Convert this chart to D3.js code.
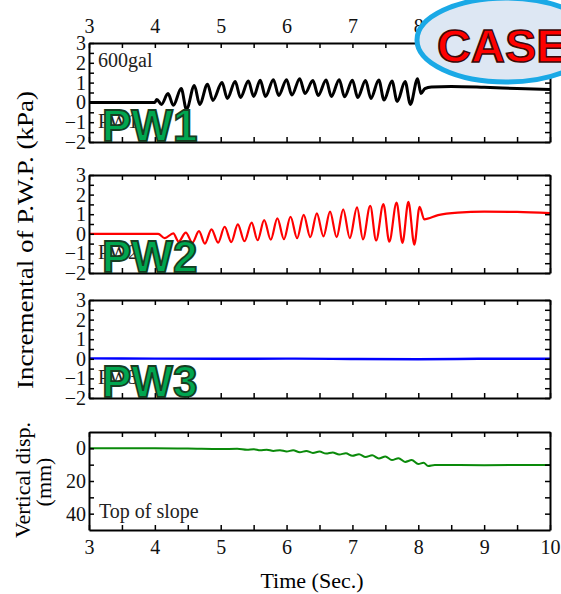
<!DOCTYPE html>
<html>
<head>
<meta charset="utf-8">
<script src="https://cdn.jsdelivr.net/npm/d3@7"></script>
<style>
  body { margin: 0; background: #fff; }
  svg { display: block; font-family: "Liberation Serif", "Times New Roman", serif; }
  .axis path { stroke: #000; stroke-width: 2; }
  .axis line { stroke: #000; stroke-width: 1.5; }
  .axis text { font-family: "Liberation Serif", serif; font-size: 20px; fill: #111; }
</style>
</head>
<body>
<div id="chart"></div>
<script>
// time axis
var timeTicks = [3, 4, 5, 6, 7, 8, 9, 10];
var pwpTicks = [3, 2, 1, 0, -1, -2];
var dispTicks = [0, 20, 40];

// pore water pressure records, [time (s), kPa]
var pw1 = [[3, 0], [4.0, 0], [4.03, 0.15], [4.1, -0.1], [4.2, 0.45], [4.28, -0.15], [4.4, 0.7], [4.48, -0.35],
  [4.6, 0.85], [4.68, -0.1], [4.8, 0.92], [4.88, 0.1], [5.02, 1.0], [5.1, 0.2], [5.22, 1.05], [5.3, 0.25],
  [5.42, 1.08], [5.5, 0.3], [5.6, 1.12], [5.68, 0.3], [5.8, 1.15], [5.88, 0.35], [6.0, 1.15], [6.08, 0.37],
  [6.2, 1.2], [6.28, 0.45], [6.4, 1.1], [6.48, 0.35], [6.6, 1.13], [6.68, 0.3], [6.8, 1.15], [6.88, 0.28],
  [7.0, 1.12], [7.08, 0.25], [7.2, 1.1], [7.28, 0.2], [7.4, 1.13], [7.48, 0.12], [7.6, 1.08], [7.68, 0.05],
  [7.8, 1.05], [7.88, -0.1], [7.99, 1.2], [8.04, 0.45], [8.1, 0.7], [8.2, 0.78], [8.5, 0.8], [9.0, 0.76],
  [9.5, 0.7], [10, 0.65]];

var pw2 = [[3, 0], [4.05, 0], [4.15, -0.22], [4.28, 0.02], [4.36, -0.4], [4.47, 0.06], [4.57, -0.45], [4.67, 0.14],
  [4.76, -0.5], [4.86, 0.23], [4.96, -0.45], [5.06, 0.36], [5.16, -0.42], [5.26, 0.48], [5.36, -0.38], [5.47, 0.57],
  [5.56, -0.33], [5.66, 0.7], [5.76, -0.3], [5.86, 0.79], [5.96, -0.27], [6.06, 0.87], [6.16, -0.22], [6.26, 0.97],
  [6.36, -0.17], [6.46, 1.04], [6.56, -0.13], [6.66, 1.13], [6.76, -0.17], [6.86, 1.25], [6.96, -0.22], [7.07, 1.35],
  [7.16, -0.28], [7.27, 1.43], [7.36, -0.34], [7.47, 1.52], [7.56, -0.4], [7.67, 1.59], [7.76, -0.46], [7.85, 1.63],
  [7.94, -0.55], [8.02, 1.38], [8.09, 0.74], [8.3, 0.95], [8.6, 1.08], [9.0, 1.13], [9.5, 1.12], [10, 1.05]];

var pw3 = [[3, 0.02], [4, 0.01], [5, 0.0], [6, 0.01], [7, -0.01], [8, -0.02], [9, 0.0], [10, 0.0]];

// vertical displacement at top of slope, [time (s), mm]
var disp = [[3, 0], [4, 0], [4.5, 0.1], [5.0, 0.4], [5.25, 0.3], [5.4, 0.9], [5.5, 0.5], [5.6, 1.2], [5.7, 0.8],
  [5.8, 1.6], [5.9, 1.1], [6.0, 1.9], [6.1, 1.2], [6.2, 2.4], [6.3, 1.6], [6.4, 2.8], [6.5, 2.0], [6.6, 3.2],
  [6.7, 2.5], [6.8, 3.8], [6.9, 3.0], [7.0, 4.6], [7.1, 3.6], [7.2, 5.3], [7.3, 4.3], [7.4, 6.2], [7.5, 5.0],
  [7.6, 7.2], [7.7, 6.0], [7.8, 8.3], [7.9, 7.2], [8.0, 9.6], [8.08, 8.8], [8.15, 10.8], [8.25, 10.2],
  [9, 10.3], [10, 10.2]];

var width = 561, height = 594;
var left = 89, right = 550;

var svg = d3.select("#chart").append("svg")
  .attr("width", width)
  .attr("height", height);

svg.append("rect").attr("width", width).attr("height", height).attr("fill", "#fff");

var xScale = d3.scaleLinear().domain([3, 10]).range([left, right]);
var halfSec = d3.range(3, 10.01, 0.5);

var panels = [
  {data: pw1, top: 43, bottom: 142, color: "#000", sw: 3, name: "PW1"},
  {data: pw2, top: 175, bottom: 273, color: "#ff0000", sw: 2.2, name: "PW2"},
  {data: pw3, top: 300, bottom: 398, color: "#0000ff", sw: 2.4, name: "PW3"}
];

function noLabel() { return ""; }
function intLabel(d) { return Number.isInteger(d) ? d3.format("")(d) : ""; }

panels.forEach(function(p, i) {
  var yScale = d3.scaleLinear().domain([-2, 3]).range([p.bottom, p.top]);
  var halfUnit = d3.range(-2, 3.01, 0.5);

  // line
  var line = d3.line()
    .x(function(d) { return xScale(d[0]); })
    .y(function(d) { return yScale(d[1]); })
    .curve(d3.curveMonotoneX);

  // small label under the big one
  svg.append("text")
    .attr("x", 98).attr("y", p.bottom - 14)
    .attr("font-size", 20).attr("fill", "#222")
    .text(p.name);

  svg.append("path")
    .datum(p.data)
    .attr("fill", "none")
    .attr("stroke", p.color)
    .attr("stroke-width", p.sw)
    .attr("stroke-linejoin", "round")
    .attr("d", line);

  // axes, ticks pointing inward
  svg.append("g").attr("class", "axis")
    .attr("transform", "translate(" + left + ",0)")
    .call(d3.axisLeft(yScale).tickValues(halfUnit).tickSizeInner(-5).tickSizeOuter(0).tickPadding(3).tickFormat(intLabel));
  svg.append("g").attr("class", "axis")
    .attr("transform", "translate(" + right + ",0)")
    .call(d3.axisRight(yScale).tickValues(halfUnit).tickSizeInner(-5).tickSizeOuter(0).tickFormat(noLabel));
  svg.append("g").attr("class", "axis")
    .attr("transform", "translate(0," + p.top + ")")
    .call(d3.axisTop(xScale).tickValues(halfSec).tickSizeInner(-5).tickSizeOuter(0).tickPadding(10)
      .tickFormat(i == 0 ? intLabel : noLabel));
  svg.append("g").attr("class", "axis")
    .attr("transform", "translate(0," + p.bottom + ")")
    .call(d3.axisBottom(xScale).tickValues(halfSec).tickSizeInner(-5).tickSizeOuter(0).tickFormat(noLabel));

  // big green name
  svg.append("text")
    .attr("x", 102).attr("y", p.bottom - 1)
    .attr("font-family", "Liberation Sans, Arial, sans-serif")
    .attr("font-weight", "bold")
    .attr("font-size", 44)
    .attr("fill", "#00a650")
    .attr("stroke", "#173d22")
    .attr("stroke-width", 1.8)
    .text(p.name);
});

// displacement panel
var dTop = 432, dBottom = 530;
var dScale = d3.scaleLinear().domain([-10, 50]).range([dTop, dBottom]);
var dMinor = [0, 10, 20, 30, 40];

svg.append("path")
  .datum(disp)
  .attr("fill", "none")
  .attr("stroke", "#0a8a0a")
  .attr("stroke-width", 2)
  .attr("d", d3.line()
    .x(function(d) { return xScale(d[0]); })
    .y(function(d) { return dScale(d[1]); })
    .curve(d3.curveMonotoneX));

svg.append("g").attr("class", "axis")
  .attr("transform", "translate(" + left + ",0)")
  .call(d3.axisLeft(dScale).tickValues(dMinor).tickSizeInner(-5).tickSizeOuter(0).tickPadding(3)
    .tickFormat(function(d) { return dispTicks.indexOf(d) >= 0 ? d : ""; }));
svg.append("g").attr("class", "axis")
  .attr("transform", "translate(" + right + ",0)")
  .call(d3.axisRight(dScale).tickValues(dMinor).tickSizeInner(-5).tickSizeOuter(0).tickFormat(noLabel));
svg.append("g").attr("class", "axis")
  .attr("transform", "translate(0," + dTop + ")")
  .call(d3.axisTop(xScale).tickValues(halfSec).tickSizeInner(-5).tickSizeOuter(0).tickFormat(noLabel));
svg.append("g").attr("class", "axis")
  .attr("transform", "translate(0," + dBottom + ")")
  .call(d3.axisBottom(xScale).tickValues(halfSec).tickSizeInner(-5).tickSizeOuter(0).tickPadding(10)
    .tickFormat(function(d) { return timeTicks.indexOf(d) >= 0 ? d : ""; }));

// texts
svg.append("text").attr("x", 98).attr("y", 67).attr("font-size", 20).attr("fill", "#222").text("600gal");
svg.append("text").attr("x", 99).attr("y", 518).attr("font-size", 20).attr("fill", "#222").text("Top of slope");

svg.append("text")
  .attr("x", 312).attr("y", 588)
  .attr("text-anchor", "middle")
  .attr("font-size", 22)
  .text("Time (Sec.)");

svg.append("text")
  .attr("transform", "translate(33,240) rotate(-90)")
  .attr("text-anchor", "middle")
  .attr("font-size", 23)
  .attr("textLength", 298)
  .attr("lengthAdjust", "spacingAndGlyphs")
  .text("Incremental of P.W.P. (kPa)");

svg.append("text")
  .attr("transform", "translate(30,480) rotate(-90)")
  .attr("text-anchor", "middle")
  .attr("font-size", 22)
  .text("Vertical disp.");
svg.append("text")
  .attr("transform", "translate(51,482) rotate(-90)")
  .attr("text-anchor", "middle")
  .attr("font-size", 22)
  .text("(mm)");

// CASE badge
svg.append("ellipse")
  .attr("cx", 506).attr("cy", 40).attr("rx", 89).attr("ry", 42)
  .attr("fill", "#dde7f3")
  .attr("stroke", "#1aa9e6")
  .attr("stroke-width", 5);
svg.append("text")
  .attr("x", 437).attr("y", 62)
  .attr("font-family", "Liberation Sans, Arial, sans-serif")
  .attr("font-weight", "bold")
  .attr("font-size", 47)
  .attr("fill", "#ff0000")
  .attr("stroke", "#3a0a0a")
  .attr("stroke-width", 1.5)
  .text("CASE");
</script>
</body>
</html>
